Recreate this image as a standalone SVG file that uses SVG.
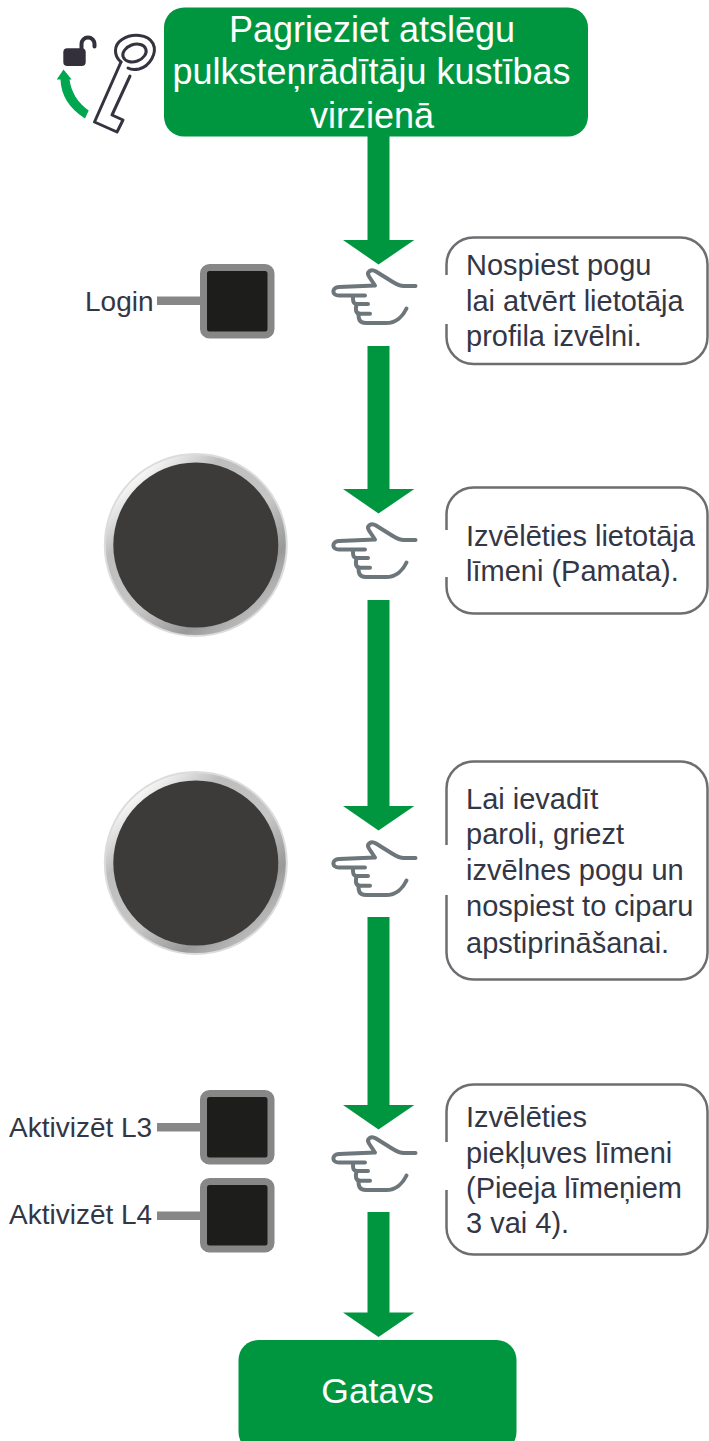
<svg xmlns="http://www.w3.org/2000/svg" width="709" height="1441" viewBox="0 0 709 1441">
<style>
.t{font-family:"Liberation Sans",Arial,sans-serif;font-size:29px;fill:#333645}
.l{font-family:"Liberation Sans",Arial,sans-serif;font-size:28px;fill:#333645}
.w{font-family:"Liberation Sans",Arial,sans-serif;fill:#fff;text-anchor:middle}
.g{fill:#009640}
.box{fill:#fff;stroke:#6d6e71;stroke-width:2.500}
.gap{stroke:#fff;stroke-width:6;fill:none}
.hand{fill:none;stroke:#6d767a;stroke-width:4;stroke-linecap:round;stroke-linejoin:round}
.lead{fill:#878787}
.btn{fill:#1d1d1b;stroke:#878787;stroke-width:7}
.ring{fill:url(#ring);stroke:#dcdcdc;stroke-width:2}
.face{fill:#3c3b39}
</style>
<defs>
<linearGradient id="ring" x1="0.18" y1="0.12" x2="0.85" y2="0.9">
<stop offset="0" stop-color="#f7f7f7"/><stop offset="0.22" stop-color="#bdbdbd"/><stop offset="0.55" stop-color="#c6c6c6"/><stop offset="0.8" stop-color="#999"/><stop offset="1" stop-color="#c2c2c2"/>
</linearGradient>
<g id="handShape" class="hand">
<path d="M415.500 286H404C399 286 396 284 392 281.500L376 271.500C371 268.500 366 272 369 276.500L375 285.500L339 287C331.500 287.500 331.500 295.500 339 295.500H365"/>
<path d="M353 296C353 300 352.500 304 357 304H368"/>
<path d="M356.500 304C355.500 309 355 313.700 360.500 313.700H370"/>
<path d="M358.500 314C358.500 318 358.500 323 366 323H386C396 323 403 316 406.500 308.500"/>
</g>
<path id="ah" d="M343 0H414.300L378.500 24.500Z"/>
</defs>

<g id="connectors" class="g">
<rect x="367.500" y="130" width="22" height="112"/><use href="#ah" y="240"/>
<rect x="367.500" y="346" width="22" height="145"/><use href="#ah" y="489"/>
<rect x="367.500" y="600" width="22" height="208"/><use href="#ah" y="806"/>
<rect x="367.500" y="917" width="22" height="190"/><use href="#ah" y="1105"/>
<rect x="367.500" y="1212" width="22" height="102"/><use href="#ah" y="1312.500"/>
</g>

<g id="start">
<rect class="g" x="164" y="7.500" width="424" height="129" rx="20"/>
<text class="w" font-size="36" x="372" y="42">Pagrieziet atslēgu</text>
<text class="w" font-size="36" x="371.500" y="84">pulksteņrādītāju kustības</text>
<text class="w" font-size="36" x="372" y="128">virzienā</text>
</g>

<g id="key-icon">
<path fill="#00a650" d="M63.500 69.500L71.700 79.500H69.500C71 92 78 103 88.700 110.500L85 118.500C69 108 61 95 60.500 79.500H56.700Z"/>
<rect x="63.300" y="48.300" width="22.400" height="17.700" rx="4" fill="#33303c"/>
<path d="M81.500 50V44a6.500 6.500 0 0 1 13 0V46.500" fill="none" stroke="#33303c" stroke-width="4" stroke-linecap="round"/>
<g fill="none" stroke="#35333f" stroke-width="3" stroke-linecap="round" stroke-linejoin="round">
<path d="M121 62C113.500 56 113.500 45 122 39.500C132 33 148 34 153 43.500C157.500 53 150 66 139 69C134 70 130.500 69.500 128 68"/>
<ellipse cx="134.500" cy="53" rx="12" ry="8.500" transform="rotate(-20 134.500 53)"/>
<path d="M121 62L94.500 122L117 132L123 120L112 115L130 76"/>
</g>
</g>

<g id="login">
<text class="l" x="85" y="311">Login</text>
<rect class="lead" x="157" y="296.500" width="45" height="8.500"/>
<rect class="btn" x="203.500" y="267.500" width="67.500" height="67.500" rx="6"/>
</g>

<g id="step1">
<use href="#handShape"/>
<rect class="box" x="446.500" y="237.500" width="261" height="126.500" rx="27"/>
<path class="gap" d="M446.500 275V324"/>
<text class="t" x="466" y="275">Nospiest pogu</text>
<text class="t" x="466" y="311">lai atvērt lietotāja</text>
<text class="t" x="466" y="346">profila izvēlni.</text>
</g>

<g id="dial1">
<circle class="ring" cx="195.800" cy="545" r="91"/>
<circle class="face" cx="195.800" cy="545" r="82.500"/>
</g>

<g id="step2">
<use href="#handShape" y="254"/>
<rect class="box" x="446.500" y="487.500" width="261" height="126" rx="27"/>
<path class="gap" d="M446.500 530V577"/>
<text class="t" x="466" y="546">Izvēlēties lietotāja</text>
<text class="t" x="466" y="581">līmeni (Pamata).</text>
</g>

<g id="dial2">
<circle class="ring" cx="195.800" cy="863" r="91"/>
<circle class="face" cx="195.800" cy="863" r="82.500"/>
</g>

<g id="step3">
<use href="#handShape" y="572"/>
<rect class="box" x="446.500" y="761.500" width="261" height="218" rx="27"/>
<path class="gap" d="M446.500 845V895"/>
<text class="t" x="466" y="809">Lai ievadīt</text>
<text class="t" x="466" y="844">paroli, griezt</text>
<text class="t" x="466" y="880">izvēlnes pogu un</text>
<text class="t" x="466" y="916">nospiest to ciparu</text>
<text class="t" x="466" y="953">apstiprināšanai.</text>
</g>

<g id="levels">
<text class="l" x="9" y="1137">Aktivizēt L3</text>
<rect class="lead" x="157" y="1123" width="45" height="8.500"/>
<rect class="btn" x="203.500" y="1093.500" width="67.500" height="67.500" rx="6"/>
<text class="l" x="9" y="1224">Aktivizēt L4</text>
<rect class="lead" x="157" y="1211.500" width="45" height="8.500"/>
<rect class="btn" x="203.500" y="1181.500" width="67.500" height="67.500" rx="6"/>
</g>

<g id="step4">
<use href="#handShape" y="867"/>
<rect class="box" x="446.500" y="1084.500" width="261" height="170" rx="27"/>
<path class="gap" d="M446.500 1142V1190"/>
<text class="t" x="466" y="1127">Izvēlēties</text>
<text class="t" x="466" y="1163">piekļuves līmeni</text>
<text class="t" x="466" y="1198">(Pieeja līmeņiem</text>
<text class="t" x="466" y="1233">3 vai 4).</text>
</g>

<g id="end">
<rect class="g" x="238.500" y="1340" width="278" height="112" rx="20"/>
<text class="w" font-size="35.500" x="377.500" y="1403">Gatavs</text>
</g>
</svg>
